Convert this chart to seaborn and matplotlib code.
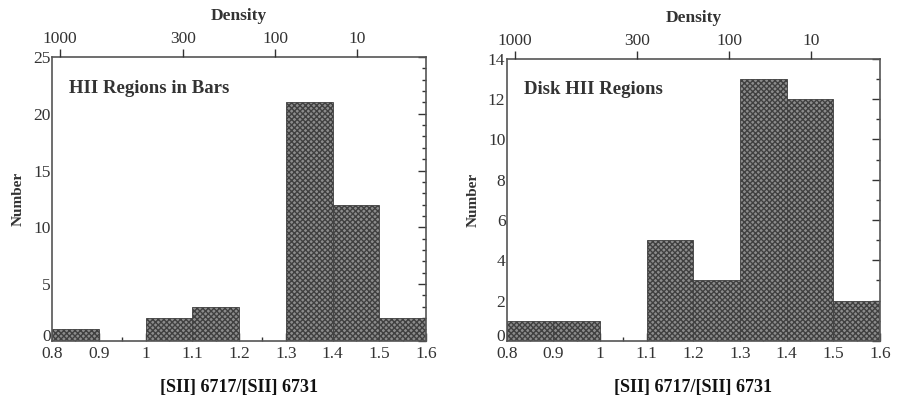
import numpy as np
import matplotlib.pyplot as plt
import matplotlib.transforms as mtransforms
import seaborn as sns

# bin edges and counts
bin_edges = [0.8, 0.9, 1.0, 1.1, 1.2, 1.3, 1.4, 1.5, 1.6]
bar_counts = [1, 0, 2, 3, 0, 21, 12, 2]
disk_counts = [1, 1, 0, 5, 3, 13, 12, 2]

density_labels = ['1000', '300', '100', '10']
density_pos = [0.817, 1.08, 1.277, 1.452]

panels = [
    ('HII Regions in Bars', bar_counts, 25, 5, 1),
    ('Disk HII Regions', disk_counts, 14, 2, 1),
]

sns.set_style('white')
plt.rcParams['font.family'] = ['Liberation Serif', 'DejaVu Serif']
ink = '#333333'

fig = plt.figure(figsize=(8.97, 4.01), dpi=100)
boxes = [[0.058, 0.150, 0.417, 0.708], [0.565, 0.150, 0.416, 0.703]]

centers = [(a + b) / 2 for a, b in zip(bin_edges[:-1], bin_edges[1:])]

for (title, counts, ymax, ystep, yminor), box in zip(panels, boxes):
    ax = fig.add_axes(box)
    sns.histplot(x=centers, weights=counts, bins=bin_edges, ax=ax,
                 color='#8c8c8c', edgecolor='#404040', linewidth=0.6,
                 alpha=1, hatch='xxxxxx')
    ax.set_xlim(0.8, 1.6)
    ax.set_ylim(0, ymax)
    ax.set_xticks(np.arange(0.8, 1.61, 0.1))
    ax.set_xticklabels(['0.8', '0.9', '1', '1.1', '1.2', '1.3', '1.4', '1.5', '1.6'])
    ax.set_xticks(np.arange(0.85, 1.6, 0.1), minor=True)
    ax.set_yticks(np.arange(0, ymax + 0.1, ystep))
    ax.set_yticks(np.arange(0, ymax + 0.1, yminor), minor=True)
    ax.tick_params(which='both', direction='in', top=True, right=True,
                   colors=ink, labelsize=12.5)
    ax.tick_params(axis='x', pad=4)
    ax.tick_params(axis='y', pad=1)
    ax.tick_params(which='major', length=6, width=1)
    ax.tick_params(which='minor', length=3, width=1)
    for s in ax.spines.values():
        s.set_color('#555555')
        s.set_linewidth(1.2)
    # lift the "0" a little so it sits above the 0.8 label as in the scan
    zero = ax.get_yticklabels()[0]
    zero.set_transform(zero.get_transform() +
                       mtransforms.ScaledTranslation(0, 4 / 72, fig.dpi_scale_trans))
    ax.set_ylabel('Number', fontsize=11, fontweight='bold', color=ink, labelpad=6)
    ax.set_xlabel('[SII] 6717/[SII] 6731', fontsize=13, fontweight='bold',
                  color='#111111', labelpad=12)
    ax.text(0.045, 0.89, title, transform=ax.transAxes, fontsize=13.5,
            fontweight='bold', color=ink, va='center')

    top = ax.twiny()
    top.set_xlim(0.8, 1.6)
    top.set_xticks(density_pos)
    top.set_xticklabels(density_labels)
    top.tick_params(direction='out', length=6, width=1, colors=ink,
                    labelsize=12.5, pad=1)
    for s in top.spines.values():
        s.set_visible(False)
    top.set_xlabel('Density', fontsize=12.5, fontweight='bold', color=ink,
                   labelpad=8)

fig.savefig('out.png', dpi=100)
